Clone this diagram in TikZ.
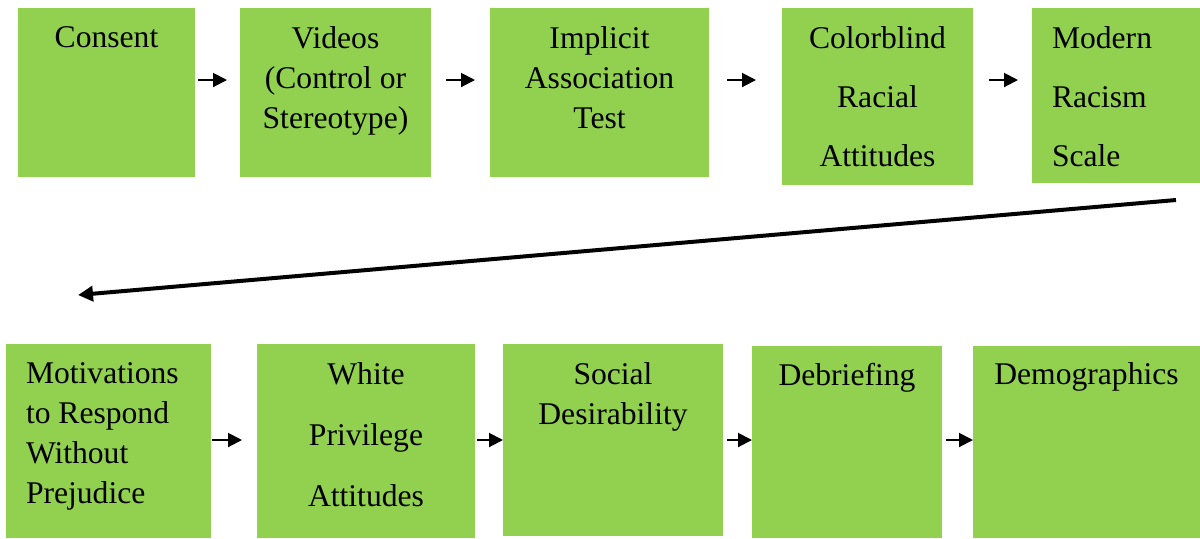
\documentclass[tikz,border=0pt]{standalone}
\usepackage{fontspec}
\setmainfont{LiberationSerif-Regular.ttf}
\newfontfamily\stepfont{LiberationSerif-Regular.ttf}
\usepackage{tikz}
\usetikzlibrary{arrows.meta, positioning}
\definecolor{stepgreen}{HTML}{92D050}
\tikzset{
  %study step box
  stepbox/.style={
    fill=stepgreen
    , draw=none
    , inner sep=0pt
    , outer sep=0pt
    , anchor=north west
    , minimum height=84.5pt
  },
  %text at the top of a box
  steptext/.style={
    inner sep=0pt
    , outer sep=0pt
    , anchor=north
    , align=center
    , font=\stepfont\fontsize{15.8}{20}\selectfont
  },
}

\begin{document}
\begin{tikzpicture}[x=0.5pt,y=-0.5pt]
  \useasboundingbox (0,0) rectangle (1200,538);
  \tikzstyle{wide}=[steptext, font=\stepfont\fontsize{15.8}{29.5}\selectfont]
  \tikzstyle{flow}=[-{Triangle[length=7pt,width=7pt]}, line width=1pt]
  \tikzstyle{wrap}=[-{Triangle[length=7.5pt,width=7.5pt]}, line width=2pt]

  % first row
  \node [stepbox, minimum width=88.5pt] (consent) at (18,8) {};
  \node [stepbox, minimum width=95.5pt, right=22.5pt of consent.north east, anchor=north west] (videos) {};
  \node [stepbox, minimum width=109.5pt, right=29.5pt of videos.north east, anchor=north west] (implicit) {};
  \node [stepbox, minimum width=95.5pt, minimum height=88.5pt, right=36.5pt of implicit.north east, anchor=north west] (colorblind) {};
  \node [stepbox, minimum width=84pt, minimum height=87.5pt, right=29.5pt of colorblind.north east, anchor=north west] (modern) {};

  \node [steptext, below=9.5pt of consent.north] (consent-t) {Consent};
  \node [steptext, below=9.5pt of videos.north] (videos-t) {Videos\\(Control or\\Stereotype)};
  \node [steptext, below=9.5pt of implicit.north] (implicit-t) {Implicit\\Association\\Test};
  \node [wide, below=9.5pt of colorblind.north] (colorblind-t) {Colorblind\\Racial\\Attitudes};
  \node [wide, align=left, anchor=north west] (modern-t) at ([xshift=10pt,yshift=-9.5pt]modern.north west) {Modern\\Racism\\Scale};

  % second row
  \node [stepbox, minimum width=102.5pt, minimum height=97pt] (motiv) at (6,344) {};
  \node [stepbox, minimum width=109pt, minimum height=97pt, right=23pt of motiv.north east, anchor=north west] (white) {};
  \node [stepbox, minimum width=110pt, minimum height=96pt, right=14pt of white.north east, anchor=north west] (social) {};
  \node [stepbox, minimum width=95pt, minimum height=96pt, below right=1pt and 14.5pt of social.north east, anchor=north west] (debrief) {};
  \node [stepbox, minimum width=113.5pt, minimum height=96pt, right=15.5pt of debrief.north east, anchor=north west] (demog) {};

  \node [steptext, align=left, anchor=north west] (motiv-t) at ([xshift=10pt,yshift=-9.5pt]motiv.north west) {Motivations\\to Respond\\Without\\Prejudice};
  \node [wide, font=\stepfont\fontsize{15.8}{30.5}\selectfont, below=9.5pt of white.north] (white-t) {White\\Privilege\\Attitudes};
  \node [steptext, below=9.5pt of social.north] (social-t) {Social\\Desirability};
  \node [steptext, below=8.5pt of debrief.north] (debrief-t) {Debriefing};
  \node [steptext, below=8.5pt of demog.north] (demog-t) {Demographics};

  % arrows
  \draw [flow, shorten <=1.5pt, shorten >=6.5pt] ([yshift=-36pt]consent.north east) -- ([yshift=-36pt]videos.north west);
  \draw [flow, shorten <=7.5pt, shorten >=7.5pt] ([yshift=-36pt]videos.north east) -- ([yshift=-36pt]implicit.north west);
  \draw [flow, shorten <=9pt, shorten >=13pt] ([yshift=-36pt]implicit.north east) -- ([yshift=-36pt]colorblind.north west);
  \draw [flow, shorten <=8pt, shorten >=7pt] ([yshift=-36pt]colorblind.north east) -- ([yshift=-36pt]modern.north west);

  \coordinate (wrap-in) at (1176,200);
  \coordinate (wrap-out) at (78,295);
  \draw [wrap] (wrap-in) -- (wrap-out);

  \draw [flow, shorten <=0.5pt, shorten >=7.5pt] ([yshift=-48pt]motiv.north east) -- ([yshift=-48pt]white.north west);
  \draw [flow, shorten <=1pt] ([yshift=-48pt]white.north east) -- ([yshift=-48pt]social.north west);
  \draw [flow, shorten <=2pt] ([yshift=-48pt]social.north east) -- ([yshift=-47pt]debrief.north west);
  \draw [flow, shorten <=2pt] ([yshift=-47pt]debrief.north east) -- ([yshift=-47pt]demog.north west);

\end{tikzpicture}
\end{document}
